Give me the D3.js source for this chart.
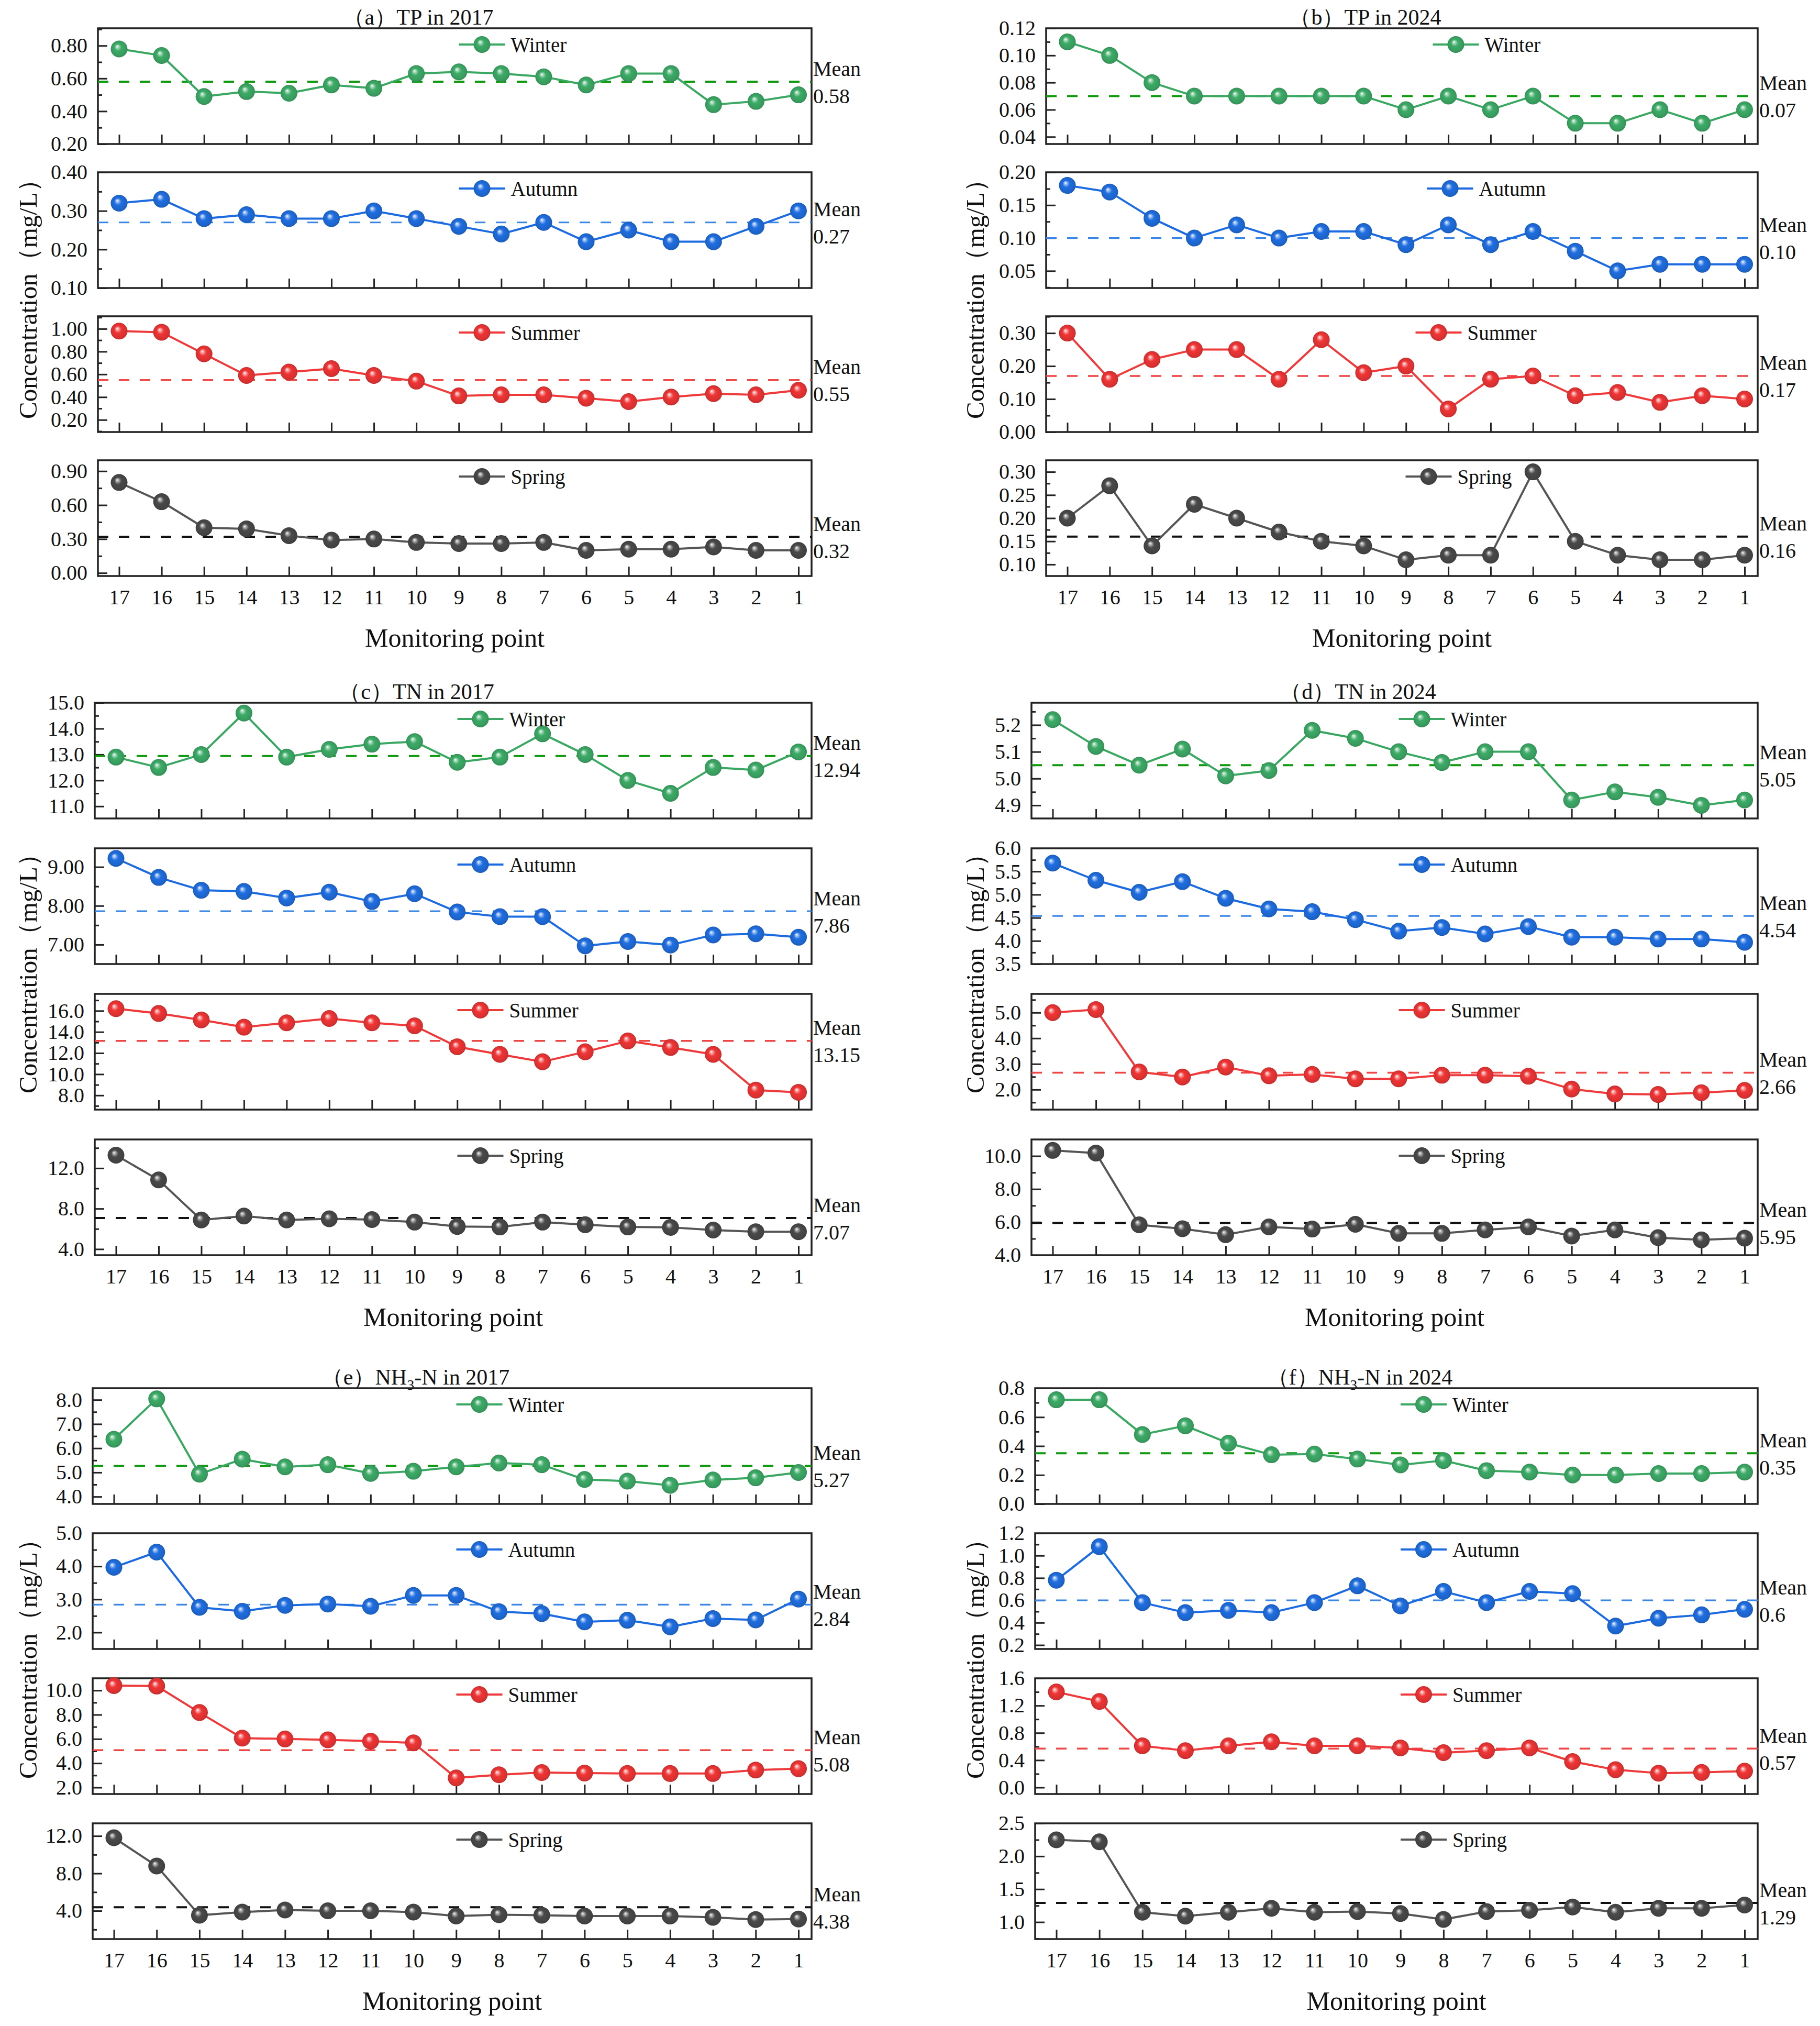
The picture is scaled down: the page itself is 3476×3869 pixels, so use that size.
<!DOCTYPE html>
<html>
<head>
<meta charset="utf-8">
<script src="https://cdn.jsdelivr.net/npm/d3@7"></script>
<style>
    body { margin: 0; background: #fff; }
    svg text { font-family: 'Liberation Serif', 'Times New Roman', serif; fill: #111; }
</style>
</head>
<body>
<div id="chart"></div>
<script>
(function () {
    'use strict';

    // Data =======================================================
    const points = [17, 16, 15, 14, 13, 12, 11, 10, 9, 8, 7, 6, 5, 4, 3, 2, 1];
    const seasons = ['Winter', 'Autumn', 'Summer', 'Spring'];

    // (a) TP in 2017
    const tp2017Winter = [0.78, 0.74, 0.49, 0.52, 0.51, 0.56, 0.54, 0.63, 0.64, 0.63, 0.61, 0.56, 0.63, 0.63, 0.44, 0.46, 0.50];
    const tp2017Autumn = [0.32, 0.33, 0.28, 0.29, 0.28, 0.28, 0.30, 0.28, 0.26, 0.24, 0.27, 0.22, 0.25, 0.22, 0.22, 0.26, 0.30];
    const tp2017Summer = [0.98, 0.97, 0.78, 0.59, 0.62, 0.65, 0.59, 0.54, 0.41, 0.42, 0.42, 0.39, 0.36, 0.40, 0.43, 0.42, 0.46];
    const tp2017Spring = [0.80, 0.63, 0.40, 0.39, 0.33, 0.29, 0.30, 0.27, 0.26, 0.26, 0.27, 0.20, 0.21, 0.21, 0.23, 0.20, 0.20];
    const tp2017Mean = ['0.58', '0.27', '0.55', '0.32'];
    const tp2017Ticks = [[0.2, 0.4, 0.6, 0.8], [0.1, 0.2, 0.3, 0.4], [0.2, 0.4, 0.6, 0.8, 1.0], [0, 0.3, 0.6, 0.9]];
    const tp2017Domain = [[0.2, 0.906], [0.1, 0.4], [0.093, 1.11], [-0.027, 0.996]];

    // (b) TP in 2024
    const tp2024Winter = [0.11, 0.10, 0.08, 0.07, 0.07, 0.07, 0.07, 0.07, 0.06, 0.07, 0.06, 0.07, 0.05, 0.05, 0.06, 0.05, 0.06];
    const tp2024Autumn = [0.18, 0.17, 0.13, 0.10, 0.12, 0.10, 0.11, 0.11, 0.09, 0.12, 0.09, 0.11, 0.08, 0.05, 0.06, 0.06, 0.06];
    const tp2024Summer = [0.30, 0.16, 0.22, 0.25, 0.25, 0.16, 0.28, 0.18, 0.20, 0.07, 0.16, 0.17, 0.11, 0.12, 0.09, 0.11, 0.10];
    const tp2024Spring = [0.20, 0.27, 0.14, 0.23, 0.20, 0.17, 0.15, 0.14, 0.11, 0.12, 0.12, 0.30, 0.15, 0.12, 0.11, 0.11, 0.12];
    const tp2024Mean = ['0.07', '0.10', '0.17', '0.16'];
    const tp2024Ticks = [[0.04, 0.06, 0.08, 0.10, 0.12], [0.05, 0.10, 0.15, 0.20], [0, 0.1, 0.2, 0.3], [0.10, 0.15, 0.20, 0.25, 0.30]];
    const tp2024Domain = [[0.0347, 0.12], [0.024, 0.2], [0, 0.351], [0.075, 0.325]];

    // (c) TN in 2017
    const tn2017Winter = [12.9, 12.5, 13.0, 14.6, 12.9, 13.2, 13.4, 13.5, 12.7, 12.9, 13.8, 13.0, 12.0, 11.5, 12.5, 12.4, 13.1];
    const tn2017Autumn = [9.22, 8.73, 8.40, 8.37, 8.20, 8.35, 8.11, 8.31, 7.84, 7.72, 7.72, 6.97, 7.08, 6.99, 7.25, 7.28, 7.19];
    const tn2017Summer = [16.2, 15.75, 15.14, 14.45, 14.86, 15.27, 14.86, 14.58, 12.6, 11.88, 11.18, 12.12, 13.15, 12.53, 11.88, 8.5, 8.29];
    const tn2017Spring = [13.29, 10.84, 6.88, 7.27, 6.88, 7.0, 6.92, 6.67, 6.24, 6.19, 6.67, 6.41, 6.19, 6.15, 5.89, 5.72, 5.72];
    const tn2017Mean = ['12.94', '7.86', '13.15', '7.07'];
    const tn2017Ticks = [[11, 12, 13, 14, 15], [7, 8, 9], [8, 10, 12, 14, 16], [4, 8, 12]];
    const tn2017Domain = [[10.53, 15], [6.5, 9.48], [6.65, 17.6], [3.4, 14.84]];

    // (d) TN in 2024
    const tn2024Winter = [5.22, 5.12, 5.05, 5.11, 5.01, 5.03, 5.18, 5.15, 5.10, 5.06, 5.10, 5.10, 4.92, 4.95, 4.93, 4.90, 4.92];
    const tn2024Autumn = [5.68, 5.31, 5.05, 5.28, 4.92, 4.69, 4.63, 4.46, 4.21, 4.29, 4.15, 4.31, 4.08, 4.08, 4.04, 4.04, 3.97];
    const tn2024Summer = [5.00, 5.12, 2.69, 2.49, 2.88, 2.54, 2.59, 2.42, 2.42, 2.56, 2.56, 2.52, 2.02, 1.83, 1.81, 1.88, 1.97];
    const tn2024Spring = [10.34, 10.18, 5.84, 5.60, 5.24, 5.71, 5.58, 5.87, 5.32, 5.32, 5.53, 5.71, 5.16, 5.53, 5.06, 4.93, 5.03];
    const tn2024Mean = ['5.05', '4.54', '2.66', '5.95'];
    const tn2024Ticks = [[4.9, 5.0, 5.1, 5.2], [3.5, 4.0, 4.5, 5.0, 5.5, 6.0], [2, 3, 4, 5], [4, 6, 8, 10]];
    const tn2024Domain = [[4.851, 5.283], [3.5, 6.0], [1.22, 5.73], [4.0, 11.0]];

    // (e) NH3-N in 2017
    const nh2017Winter = [6.37, 8.04, 4.93, 5.55, 5.23, 5.32, 4.96, 5.05, 5.23, 5.39, 5.32, 4.71, 4.64, 4.47, 4.69, 4.78, 5.00];
    const nh2017Autumn = [3.97, 4.43, 2.76, 2.64, 2.82, 2.86, 2.79, 3.12, 3.12, 2.63, 2.57, 2.32, 2.37, 2.17, 2.42, 2.38, 3.01];
    const nh2017Summer = [10.4, 10.36, 8.18, 6.07, 6.0, 5.93, 5.82, 5.68, 2.79, 3.05, 3.23, 3.19, 3.15, 3.15, 3.15, 3.44, 3.55];
    const nh2017Spring = [11.81, 8.79, 3.53, 3.86, 4.09, 4.0, 4.0, 3.86, 3.44, 3.58, 3.53, 3.44, 3.44, 3.44, 3.30, 3.07, 3.12];
    const nh2017Mean = ['5.27', '2.84', '5.08', '4.38'];
    const nh2017Ticks = [[4, 5, 6, 7, 8], [2, 3, 4, 5], [2, 4, 6, 8, 10], [4, 8, 12]];
    const nh2017Domain = [[3.7, 8.48], [1.5, 5.0], [1.46, 11.0], [0.98, 13.35]];

    // (f) NH3-N in 2024
    const nh2024Winter = [0.72, 0.72, 0.48, 0.54, 0.42, 0.34, 0.345, 0.31, 0.27, 0.30, 0.23, 0.22, 0.20, 0.20, 0.21, 0.21, 0.22];
    const nh2024Autumn = [0.78, 1.08, 0.58, 0.49, 0.51, 0.49, 0.58, 0.73, 0.55, 0.68, 0.58, 0.68, 0.66, 0.37, 0.44, 0.47, 0.52];
    const nh2024Summer = [1.40, 1.26, 0.61, 0.54, 0.61, 0.67, 0.61, 0.61, 0.58, 0.51, 0.54, 0.58, 0.38, 0.26, 0.21, 0.22, 0.24];
    const nh2024Spring = [2.25, 2.22, 1.15, 1.09, 1.15, 1.21, 1.15, 1.16, 1.13, 1.04, 1.16, 1.18, 1.23, 1.15, 1.21, 1.21, 1.26];
    const nh2024Mean = ['0.35', '0.6', '0.57', '1.29'];
    const nh2024Ticks = [[0, 0.2, 0.4, 0.6, 0.8], [0.2, 0.4, 0.6, 0.8, 1.0, 1.2], [0, 0.4, 0.8, 1.2, 1.6], [1.0, 1.5, 2.0, 2.5]];
    const nh2024Domain = [[0, 0.8], [0.165, 1.2], [-0.096, 1.6], [0.742, 2.5]];

    // Layout =====================================================
    const W = 3476, H = 3869;
    const rowTop = [54, 1342, 2651];
    const rowStep = [275, 278, 277];
    const subH = 221;
    const colRight = [1550, 3357];
    const yLabelX = [53, 1862];

    const colors = {
        Winter: { ball: '#3dab67', line: '#3aa862', mean: '#109a10', dashW: 4 },
        Autumn: { ball: '#1f6ee0', line: '#1d6be0', mean: '#3a86e6', dashW: 3.2 },
        Summer: { ball: '#ef3535', line: '#ee3a3a', mean: '#ef4545', dashW: 3.5 },
        Spring: { ball: '#4a4a4a', line: '#555555', mean: '#111111', dashW: 4 }
    };

    const panels = [
        { id: 'a', title: [['（a）TP in 2017']], row: 0, col: 0, left: 187,
            series: [tp2017Winter, tp2017Autumn, tp2017Summer, tp2017Spring],
            mean: tp2017Mean, ticks: tp2017Ticks, domain: tp2017Domain,
            fmt: ['.2f', '.2f', '.2f', '.2f'], legendDx: [52, 52, 52, 52] },
        { id: 'b', title: [['（b）TP in 2024']], row: 0, col: 1, left: 1998,
            series: [tp2024Winter, tp2024Autumn, tp2024Summer, tp2024Spring],
            mean: tp2024Mean, ticks: tp2024Ticks, domain: tp2024Domain,
            fmt: ['.2f', '.2f', '.2f', '.2f'], legendDx: [103, 92, 70, 51] },
        { id: 'c', title: [['（c）TN in 2017']], row: 1, col: 0, left: 181,
            series: [tn2017Winter, tn2017Autumn, tn2017Summer, tn2017Spring],
            mean: tn2017Mean, ticks: tn2017Ticks, domain: tn2017Domain,
            fmt: ['.1f', '.2f', '.1f', '.1f'], legendDx: [52, 52, 52, 52] },
        { id: 'd', title: [['（d）TN in 2024']], row: 1, col: 1, left: 1970,
            series: [tn2024Winter, tn2024Autumn, tn2024Summer, tn2024Spring],
            mean: tn2024Mean, ticks: tn2024Ticks, domain: tn2024Domain,
            fmt: ['.1f', '.1f', '.1f', '.1f'], legendDx: [52, 52, 52, 52] },
        { id: 'e', title: [['（e）NH'], ['3', true], ['-N in 2017']], row: 2, col: 0, left: 177,
            series: [nh2017Winter, nh2017Autumn, nh2017Summer, nh2017Spring],
            mean: nh2017Mean, ticks: nh2017Ticks, domain: nh2017Domain,
            fmt: ['.1f', '.1f', '.1f', '.1f'], legendDx: [52, 52, 52, 52] },
        { id: 'f', title: [['（f）NH'], ['3', true], ['-N in 2024']], row: 2, col: 1, left: 1977,
            series: [nh2024Winter, nh2024Autumn, nh2024Summer, nh2024Spring],
            mean: nh2024Mean, ticks: nh2024Ticks, domain: nh2024Domain,
            fmt: ['.1f', '.1f', '.1f', '.1f'], legendDx: [52, 52, 52, 52] }
    ];

    // Create svg tag =============================================
    const svg = d3.select('#chart').append('svg')
        .attr('width', W)
        .attr('height', H);

    svg.append('rect').attr('width', W).attr('height', H).attr('fill', '#fff');

    // 3D ball gradients
    const defs = svg.append('defs');
    seasons.forEach(s => {
        const base = colors[s].ball;
        const grad = defs.append('radialGradient').attr('id', 'ball-' + s)
            .attr('cx', '50%').attr('cy', '50%').attr('r', '50%')
            .attr('fx', '38%').attr('fy', '34%');
        grad.append('stop').attr('offset', '0').attr('stop-color', '#ffffff');
        grad.append('stop').attr('offset', '0.14').attr('stop-color', d3.interpolateRgb(base, '#ffffff')(0.6));
        grad.append('stop').attr('offset', '0.42').attr('stop-color', base);
        grad.append('stop').attr('offset', '0.88').attr('stop-color', d3.color(base).darker(0.3).formatHex());
        grad.append('stop').attr('offset', '1').attr('stop-color', d3.color(base).darker(0.6).formatHex());
    });

    const drawBall = (sel, season) => sel
        .attr('r', 16)
        .attr('fill', `url(#ball-${season})`);

    // Panels =====================================================
    panels.forEach(p => {
        const left = p.left;
        const right = colRight[p.col];
        const top0 = rowTop[p.row];
        const step = rowStep[p.row];
        const cx = (left + right) / 2;
        const g = svg.append('g').attr('id', 'panel-' + p.id);

        const x = d3.scalePoint().domain(points).range([left + 40.5, right - 25]);

        // title
        const title = g.append('text')
            .attr('x', cx - 70)
            .attr('y', top0 - 7)
            .attr('text-anchor', 'middle')
            .style('font-size', '42px');
        p.title.forEach(part => {
            const ts = title.append('tspan').text(part[0]);
            if (part[1]) {
                ts.attr('dy', 10).style('font-size', '28px');
            } else if (part[0].charAt(0) === '-') {
                ts.attr('dy', -10);
            }
        });

        seasons.forEach((s, k) => {
            const sTop = top0 + k * step;
            const sBot = sTop + subH;
            const dom = p.domain[k];
            const ticks = p.ticks[k];
            const tStep = ticks[1] - ticks[0];
            const y = d3.scaleLinear().domain(dom).range([sBot, sTop]);
            const sg = g.append('g').attr('class', 'sub-' + s);

            const minor = d3.range(-3, ticks.length + 3)
                .map(j => ticks[0] + (j + 0.5) * tStep)
                .filter(v => v > dom[0] + 1e-9 && v < dom[1] - 1e-9);

            // minor y ticks
            sg.append('g')
                .attr('transform', `translate(${left},0)`)
                .style('color', '#222')
                .call(d3.axisLeft(y).tickValues(minor).tickSize(-8).tickSizeOuter(0).tickFormat(''))
                .call(a => a.select('.domain').remove())
                .selectAll('line').attr('stroke-width', 3);

            // major y ticks
            sg.append('g')
                .attr('transform', `translate(${left},0)`)
                .style('color', '#222')
                .call(d3.axisLeft(y).tickValues(ticks).tickSize(-18).tickSizeOuter(0)
                    .tickPadding(20).tickFormat(d3.format(p.fmt[k])))
                .call(a => a.select('.domain').remove())
                .call(a => a.selectAll('line').attr('stroke-width', 3))
                .selectAll('text')
                .style('font-size', '40px')
                .style('fill', '#111');

            // x ticks, labels only on the last sub plot
            const xAxis = d3.axisBottom(x).tickSize(-18).tickSizeOuter(0).tickPadding(26);
            if (k < 3) xAxis.tickFormat('');
            sg.append('g')
                .attr('transform', `translate(0,${sBot})`)
                .style('color', '#222')
                .call(xAxis)
                .call(a => a.select('.domain').remove())
                .call(a => a.selectAll('line').attr('stroke-width', 3))
                .selectAll('text')
                .style('font-size', '40px')
                .style('fill', '#111');

            // frame
            sg.append('rect')
                .attr('x', left)
                .attr('y', sTop)
                .attr('width', right - left)
                .attr('height', subH)
                .attr('fill', 'none')
                .attr('stroke', '#222')
                .attr('stroke-width', 3.5);

            // mean line
            const meanVal = +p.mean[k];
            sg.append('line')
                .attr('x1', left)
                .attr('x2', right)
                .attr('y1', y(meanVal))
                .attr('y2', y(meanVal))
                .attr('stroke', colors[s].mean)
                .attr('stroke-width', colors[s].dashW)
                .attr('stroke-dasharray', '20,20');

            // series line
            const line = d3.line()
                .x((d, i) => x(points[i]))
                .y(d => y(d));
            sg.append('path')
                .datum(p.series[k])
                .attr('d', line)
                .attr('fill', 'none')
                .attr('stroke', colors[s].line)
                .attr('stroke-width', 4)
                .attr('stroke-linejoin', 'round');

            sg.selectAll('circle.pt').data(p.series[k]).enter().append('circle')
                .attr('class', 'pt')
                .attr('cx', (d, i) => x(points[i]))
                .attr('cy', d => y(d))
                .call(drawBall, s);

            // mean label
            sg.append('text')
                .attr('x', right + 3)
                .attr('y', y(meanVal) - 25)
                .attr('dominant-baseline', 'central')
                .style('font-size', '40px')
                .text('Mean');
            sg.append('text')
                .attr('x', right + 3)
                .attr('y', y(meanVal) + 27)
                .attr('dominant-baseline', 'central')
                .style('font-size', '40px')
                .text(p.mean[k]);

            // legend
            const lx = cx + p.legendDx[k];
            const ly = sTop + 31;
            sg.append('line')
                .attr('x1', lx - 44)
                .attr('x2', lx + 44)
                .attr('y1', ly)
                .attr('y2', ly)
                .attr('stroke', colors[s].line)
                .attr('stroke-width', 4);
            sg.append('circle')
                .attr('cx', lx)
                .attr('cy', ly)
                .call(drawBall, s);
            sg.append('text')
                .attr('x', lx + 55)
                .attr('y', ly)
                .attr('dominant-baseline', 'central')
                .style('font-size', '39px')
                .text(s);
        });

        const lastBottom = top0 + 3 * step + subH;

        g.append('text')
            .attr('x', cx)
            .attr('y', lastBottom + 118)
            .attr('text-anchor', 'middle')
            .attr('dominant-baseline', 'central')
            .style('font-size', '50px')
            .text('Monitoring point');

        g.append('text')
            .attr('transform', `translate(${yLabelX[p.col]},${top0 + 505}) rotate(-90)`)
            .attr('text-anchor', 'middle')
            .attr('dominant-baseline', 'central')
            .style('font-size', '49px')
            .text('Concentration（mg/L）');
    });
}());
</script>
</body>
</html>
